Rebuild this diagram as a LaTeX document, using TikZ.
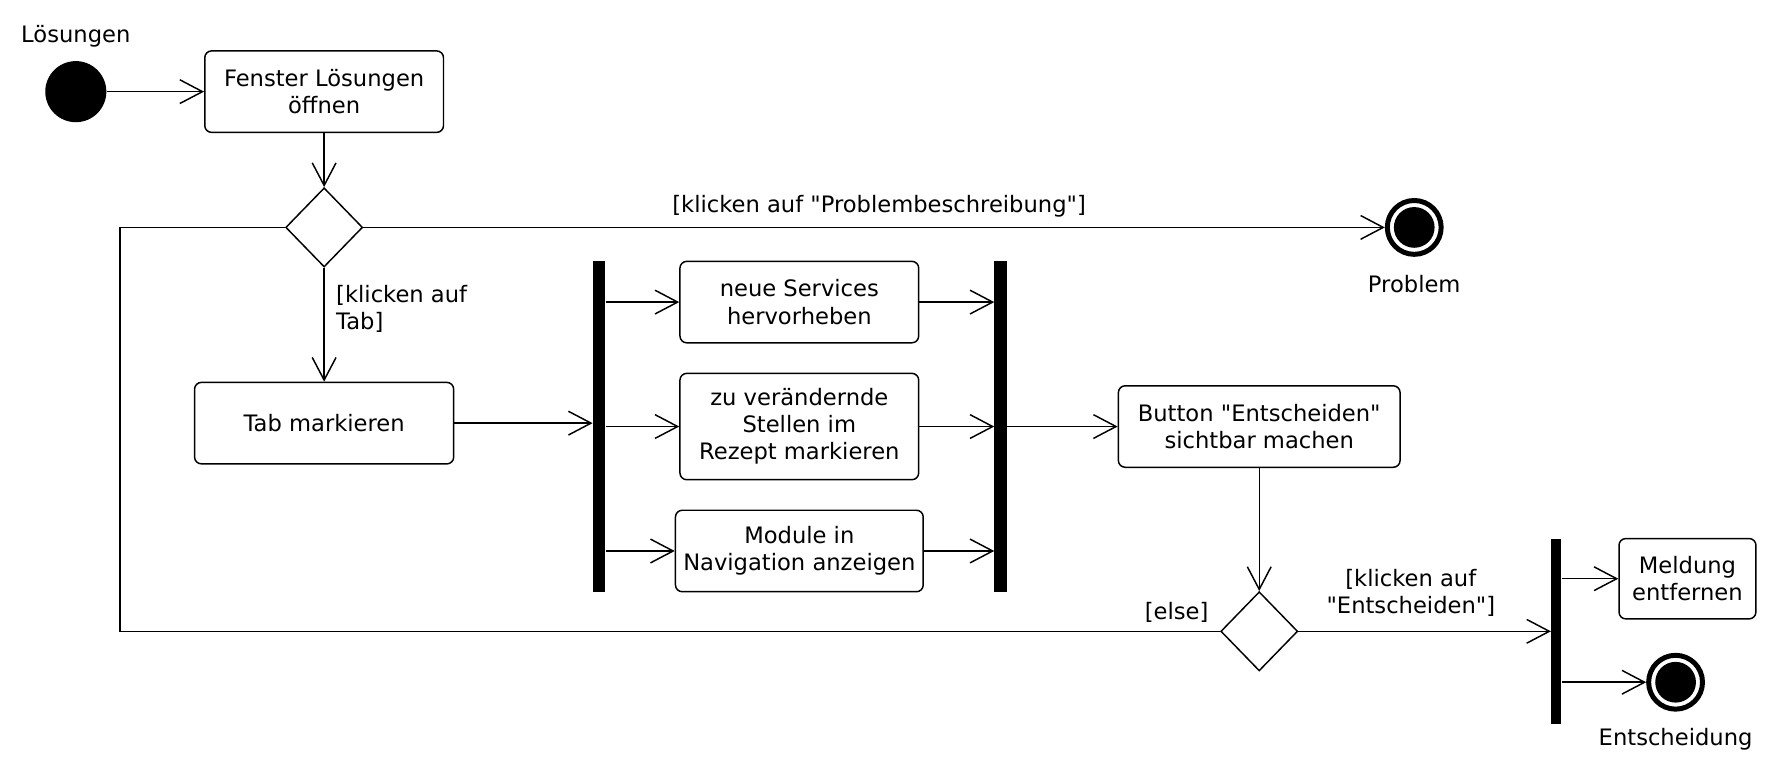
\documentclass[tikz,border=0pt]{standalone}
\usepackage{fontspec}
\newfontfamily\dvs{DejaVu Sans}
\usetikzlibrary{arrows.meta,shapes.geometric}
\begin{document}
\begin{tikzpicture}[x=1pt,y=-1pt,
  txt/.style={font=\dvs\fontsize{20}{24}\selectfont, align=center, inner sep=0pt},
  act/.style={txt, draw, rounded corners=6pt, line width=1.3pt},
  arr/.style={line width=1.3pt, -{Straight Barb[length=20pt,width=21pt]}},
  plain/.style={line width=1.3pt},
  bar/.style={fill=black, inner sep=0pt, minimum width=11pt, minimum height=292pt},
  dec/.style={diamond, draw, line width=1.3pt, inner sep=0pt, minimum width=68pt, minimum height=70pt},
  startnode/.style={circle, fill=black, inner sep=0pt, minimum size=54pt},
  endnode/.style={circle, draw, line width=4.4pt, inner sep=0pt, minimum size=47.6pt,
     path picture={\fill[black] (path picture bounding box.center) circle (18pt);}}
]
\fill[white] (0,0) rectangle (1568,681);
\useasboundingbox (0,0) rectangle (1568,681);

% nodes
\node[startnode] (init) at (67,81) {};
\node[txt] (linit) at (67,32.5) {Lösungen};
\node[act, minimum width=211pt, minimum height=72pt] (open) at (286.5,81) {Fenster Lösungen\\öffnen};
\node[dec] (dia1) at (286.5,201) {};
\node[endnode] (fin1) at (1250,201) {};
\node[txt] (lfin1) at (1250,251) {Problem};
\node[act, minimum width=229pt, minimum height=72pt] (tab) at (286.5,374) {Tab markieren};
\node[bar] (bar1) at (529.5,377) {};
\node[act, minimum width=211pt, minimum height=72pt] (a) at (706.5,267) {neue Services\\hervorheben};
\node[act, minimum width=211pt, minimum height=94pt] (b) at (706.5,377) {zu verändernde\\Stellen im\\Rezept markieren};
\node[act, minimum width=219pt, minimum height=72pt] (c) at (706.5,487) {Module in\\Navigation anzeigen};
\node[bar] (bar2) at (884.5,377) {};
\node[act, minimum width=249pt, minimum height=72pt] (d) at (1113,377) {Button "Entscheiden"\\sichtbar machen};
\node[dec] (dia2) at (1113,558) {};
\node[bar, minimum width=9pt, minimum height=164pt] (bar3) at (1375.5,558) {};
\node[act, minimum width=121pt, minimum height=71pt] (mel) at (1491.5,511.5) {Meldung\\entfernen};
\node[endnode] (fin2) at (1481,603) {};
\node[txt] (lfin2) at (1481,653) {Entscheidung};

% guard labels
\node[txt] (g1) at (777,182.5) {[klicken auf "Problembeschreibung"]};
\node[txt, align=left, anchor=west] (g2) at (297,273) {[klicken auf\\Tab]};
\node[txt] (g3) at (1040,541.5) {[else]};
\node[txt] (g4) at (1247,524) {[klicken auf\\"Entscheiden"]};

\coordinate (lt) at (106,201);
\coordinate (lb) at (106,558);

% connectors
\draw[arr] (init) -- (open);
\draw[arr] (open.south) -- (dia1.north);
\draw[arr] (dia1.east) -- (fin1);
\draw[arr] (dia1.south) -- (tab.north);
\draw[arr] (tab.east) -- (tab.east -| bar1.west);
\draw[arr] (bar1.east |- a.west) -- (a.west);
\draw[arr] (bar1.east |- b.west) -- (b.west);
\draw[arr] (bar1.east |- c.west) -- (c.west);
\draw[arr] (a.east) -- (a.east -| bar2.west);
\draw[arr] (b.east) -- (b.east -| bar2.west);
\draw[arr] (c.east) -- (c.east -| bar2.west);
\draw[arr] (bar2.east |- d.west) -- (d.west);
\draw[arr] (d.south) -- (dia2.north);
\draw[arr] (dia2.east) -- (dia2.east -| bar3.west);
\draw[arr] (bar3.east |- mel.west) -- (mel.west);
\draw[arr] (bar3.east |- fin2.west) -- (fin2.west);
\draw[plain] (dia1.west) -- (lt) -- (lb) -- (dia2.west);
\end{tikzpicture}
\end{document}
